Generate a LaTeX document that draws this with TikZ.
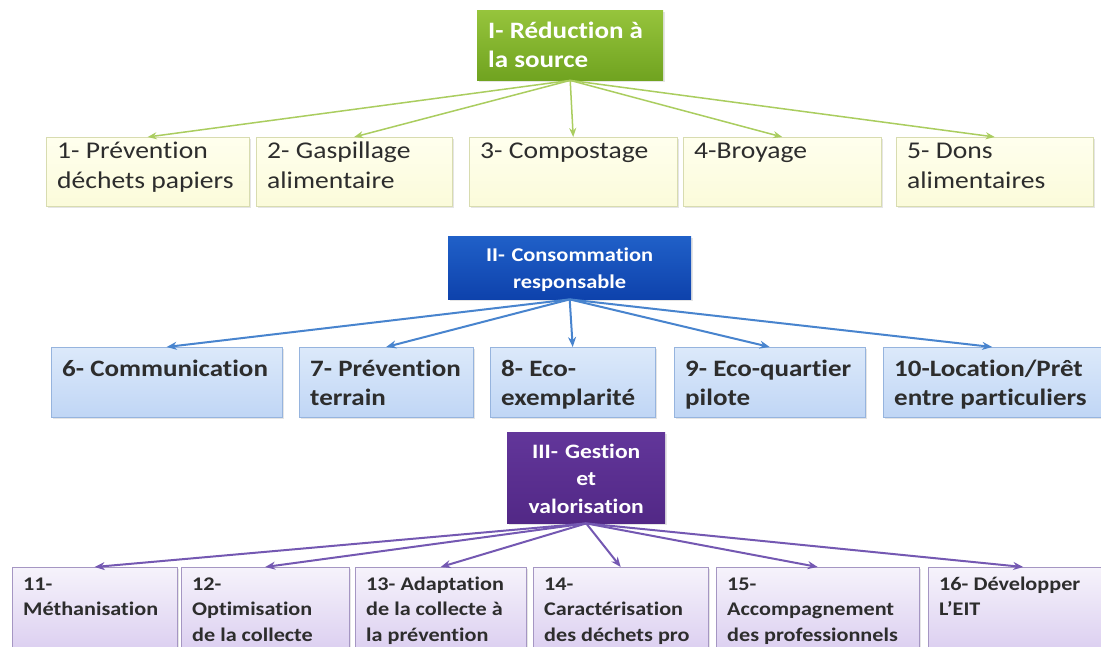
\documentclass[tikz,border=0pt]{standalone}
\usepackage{fontspec}
\setmainfont{Carlito}[FakeStretch=1.15,Ligatures=NoCommon]
\usetikzlibrary{arrows.meta,shadows}
\definecolor{vertH}{RGB}{150,196,60}
\definecolor{vertL}{RGB}{112,163,32}
\definecolor{vertF}{RGB}{170,205,95}
\definecolor{jauneH}{RGB}{255,255,238}
\definecolor{jauneL}{RGB}{251,251,218}
\definecolor{jauneB}{RGB}{216,220,176}
\definecolor{bleuH}{RGB}{32,96,200}
\definecolor{bleuL}{RGB}{14,66,172}
\definecolor{bleuF}{RGB}{72,132,206}
\definecolor{cielH}{RGB}{220,233,250}
\definecolor{cielL}{RGB}{192,214,245}
\definecolor{cielB}{RGB}{150,180,222}
\definecolor{violetH}{RGB}{98,54,154}
\definecolor{violetL}{RGB}{82,40,134}
\definecolor{violetF}{RGB}{116,88,178}
\definecolor{lilasH}{RGB}{246,243,251}
\definecolor{lilasL}{RGB}{216,202,239}
\definecolor{lilasB}{RGB}{165,150,195}
\definecolor{texte}{RGB}{45,45,45}
\tikzset{
	ombre/.style={drop shadow={opacity=.2,shadow xshift=2pt,shadow yshift=-2pt}},
	theme/.style={ombre, anchor=north west, inner xsep=11pt, inner ysep=0pt, text=white},
	action/.style={ombre, anchor=north west, inner xsep=11pt, inner ysep=0pt, text=texte, align=flush left},
	actionI/.style={action, draw=jauneB, top color=jauneH, bottom color=jauneL, text height=21pt, text depth=48pt, font=\fontsize{24}{30}\selectfont},
	actionII/.style={action, draw=cielB, top color=cielH, bottom color=cielL, text height=29pt, text depth=41pt, font=\fontsize{23.5}{29}\selectfont\bfseries},
	actionIII/.style={action, draw=lilasB, top color=lilasH, bottom color=lilasL, text height=23pt, text depth=72pt, font=\fontsize{19.3}{25.5}\selectfont\bfseries},
	flecheI/.style={draw=vertF, line width=1.5pt, -{Stealth[length=9pt,width=7pt]}},
	flecheII/.style={draw=bleuF, line width=2pt, -{Stealth[length=10pt,width=8pt]}},
	flecheIII/.style={draw=violetF, line width=2pt, -{Stealth[length=10pt,width=8pt]}}
}
\newcommand{\Action}[6]{
	\node[#1, text width=\fpeval{#5-22}pt] (#2) at (#3,#4) {#6};
}

\begin{document}
\begin{tikzpicture}[x=1pt,y=-1pt]
	\path[fill=white, use as bounding box] (0,0) rectangle (1101,647);
	%\draw[help lines, step=50] (0,0) grid (1101,647);

	\node[theme, top color=vertH, bottom color=vertL, align=flush left, text width=164pt, text height=28pt, text depth=42pt, font=\fontsize{23.5}{29}\selectfont\bfseries] (Red) at (477,10) {I- Réduction à\\la source};
	\Action{actionI}{A1}{46}{137}{203}{1- Prévention\\déchets papiers}
	\Action{actionI}{A2}{256}{137}{196}{2- Gaspillage\\alimentaire}
	\Action{actionI}{A3}{469}{137}{208}{3- Compostage}
	\Action{actionI}{A4}{683}{137}{198}{4-Broyage}
	\Action{actionI}{A5}{896}{137}{197}{5- Dons\\alimentaires}
	\draw[flecheI] (Red.south) -- (A1.north);
	\draw[flecheI] (Red.south) -- (A2.north);
	\draw[flecheI] (Red.south) -- (A3.north);
	\draw[flecheI] (Red.south) -- (A4.north);
	\draw[flecheI] (Red.south) -- (A5.north);

	\node[theme, top color=bleuH, bottom color=bleuL, align=center, text width=221pt, text height=25pt, text depth=38pt, font=\fontsize{19.5}{27}\selectfont\bfseries] (Cons) at (448,236) {II- Consommation\\responsable};
	\Action{actionII}{A6}{51}{347}{231}{6- Communication}
	\Action{actionII}{A7}{299}{347}{174}{7- Prévention\\terrain}
	\Action{actionII}{A8}{490}{347}{165}{8- Eco-\\exemplarité}
	\Action{actionII}{A9}{674}{347}{191}{9- Eco-quartier\\pilote}
	\Action{actionII}{A10}{883}{347}{218}{10-Location/Prêt\\entre particuliers}
	\draw[flecheII] (Cons.south) -- (A6.north);
	\draw[flecheII] (Cons.south) -- (A7.north);
	\draw[flecheII] (Cons.south) -- (A8.north);
	\draw[flecheII] (Cons.south) -- (A9.north);
	\draw[flecheII] (Cons.south) -- (A10.north);

	\node[theme, top color=violetH, bottom color=violetL, align=center, text width=136pt, text height=26pt, text depth=65pt, font=\fontsize{20.5}{27.5}\selectfont\bfseries] (Gest) at (507,432) {III- Gestion\\et\\valorisation};
	\Action{actionIII}{A11}{12}{567}{165}{11-\\Méthanisation}
	\Action{actionIII}{A12}{181}{567}{168}{12-\\Optimisation\\de la collecte}
	\Action{actionIII}{A13}{355}{567}{171}{13- Adaptation\\de la collecte à\\la prévention}
	\Action{actionIII}{A14}{533}{567}{175}{14-\\Caractérisation\\des déchets pro}
	\Action{actionIII}{A15}{716}{567}{203}{15-\\Accompagnement\\des professionnels}
	\Action{actionIII}{A16}{928}{567}{190}{16- Développer\\L’EIT}
	\draw[flecheIII] (Gest.south) -- (A11.north);
	\draw[flecheIII] (Gest.south) -- (A12.north);
	\draw[flecheIII] (Gest.south) -- (A13.north);
	\draw[flecheIII] (Gest.south) -- (A14.north);
	\draw[flecheIII] (Gest.south) -- (A15.north);
	\draw[flecheIII] (Gest.south) -- (A16.north);
\end{tikzpicture}
\end{document}
